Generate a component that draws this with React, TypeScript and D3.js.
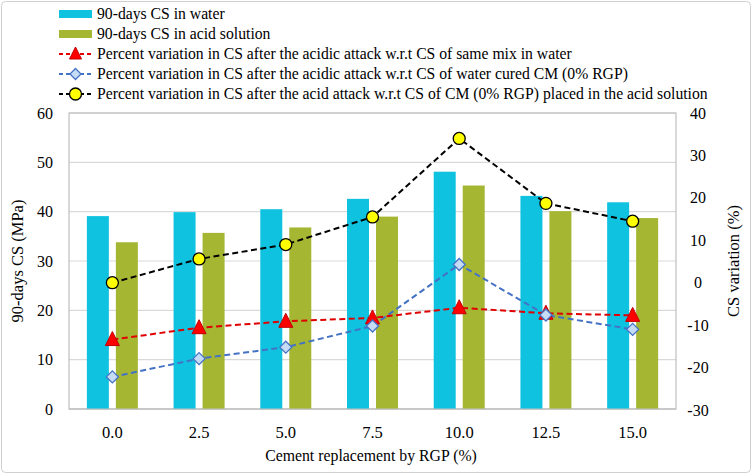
import React from "react";
import * as d3 from "d3";

const categories = ["0.0", "2.5", "5.0", "7.5", "10.0", "12.5", "15.0"];
const csWater = [39.1, 39.9, 40.5, 42.6, 48.1, 43.2, 41.9];
const csAcid = [33.8, 35.7, 36.8, 39.0, 45.3, 40.1, 38.7];
const varSameMix = [-13.4, -10.6, -9.1, -8.3, -5.9, -7.2, -7.7];
const varWaterCM = [-22.2, -17.9, -15.2, -10.2, 4.3, -7.6, -11.0];
const varAcidCM = [0.0, 5.6, 9.0, 15.5, 34.0, 18.7, 14.5];
const leftTicks = [0, 10, 20, 30, 40, 50, 60];
const rightTicks = [-30, -20, -10, 0, 10, 20, 30, 40];
const legendLabels = [
  "90-days CS in water",
  "90-days CS in acid solution",
  "Percent variation in CS after the acidic attack w.r.t CS of same mix in water",
  "Percent variation in CS after the acidic attack w.r.t CS of water cured CM (0% RGP)",
  "Percent variation in CS after the acid attack w.r.t CS of CM (0% RGP) placed in the acid solution",
];

const W = 752;
const H = 474;
const L = 69, R = 676, T = 113, B = 409;
const FONT = "Liberation Serif, Times New Roman, DejaVu Serif, serif";

const BLUE = "#0EC2E0";
const GREEN = "#A5B633";
const RED = "#E00000";
const LBLUE = "#4472C4";

function Triangle({ x, y, s = 7 }: { x: number; y: number; s?: number }) {
  const p = `M${x},${y - s - 1} L${x + s},${y + s - 1} L${x - s},${y + s - 1} Z`;
  return <path d={p} fill="#FF0000" stroke="#C00000" strokeWidth={1} />;
}
function Diamond({ x, y, s = 6 }: { x: number; y: number; s?: number }) {
  const p = `M${x},${y - s} L${x + s},${y} L${x},${y + s} L${x - s},${y} Z`;
  return <path d={p} fill="#C6DCF4" stroke={LBLUE} strokeWidth={1.3} />;
}
function Circle({ x, y }: { x: number; y: number }) {
  return <circle cx={x} cy={y} r={6} fill="#FFFF00" stroke="#000" strokeWidth={1.3} />;
}

export default function App() {
  const x0 = d3.scaleBand<string>().domain(categories).range([L, R]).padding(0);
  const yL = d3.scaleLinear().domain([0, 60]).range([B, T]);
  const yR = d3.scaleLinear().domain([-30, 40]).range([B + 1, T]);
  const barW = 22;
  const gap = 7;
  const cx = (i: number) => (x0(categories[i]) as number) + x0.bandwidth() / 2;

  const line = (vals: number[]) =>
    d3
      .line<number>()
      .x((_, i) => cx(i))
      .y((v) => yR(v))(vals) as string;

  const legendY = [14, 34, 54, 74, 94];

  return (
    <svg width={W} height={H} style={{ position: "absolute", left: 0, top: 0 }} fontFamily={FONT}>
      <rect x={0} y={0} width={W} height={H} fill="#fff" />
      <rect x={1.5} y={1.5} width={W - 3} height={H - 3} rx={4} fill="none" stroke="#D0D0D0" strokeWidth={1} />

      {/* gridlines */}
      {leftTicks.map((t) => (
        <line key={t} x1={L} x2={R} y1={yL(t)} y2={yL(t)} stroke="#D9D9D9" strokeWidth={1.2} />
      ))}
      <rect x={L} y={T} width={R - L} height={B - T} fill="none" stroke="#BFBFBF" strokeWidth={1.2} />

      {/* bars */}
      {categories.map((c, i) => (
        <g key={c}>
          <rect x={cx(i) - gap / 2 - barW} y={yL(csWater[i])} width={barW} height={B - yL(csWater[i])} fill={BLUE} />
          <rect x={cx(i) + gap / 2} y={yL(csAcid[i])} width={barW} height={B - yL(csAcid[i])} fill={GREEN} />
        </g>
      ))}
      <line x1={L} x2={R} y1={B} y2={B} stroke="#BFBFBF" strokeWidth={1.2} />

      {/* lines */}
      <path d={line(varAcidCM)} fill="none" stroke="#000" strokeWidth={2} strokeDasharray="6,3.5" />
      <path d={line(varWaterCM)} fill="none" stroke={LBLUE} strokeWidth={2} strokeDasharray="6,3.5" />
      <path d={line(varSameMix)} fill="none" stroke={RED} strokeWidth={2} strokeDasharray="6,3.5" />
      {varAcidCM.map((v, i) => (
        <Circle key={"c" + i} x={cx(i)} y={yR(v)} />
      ))}
      {varSameMix.map((v, i) => (
        <Triangle key={"t" + i} x={cx(i)} y={yR(v)} />
      ))}
      {varWaterCM.map((v, i) => (
        <Diamond key={"d" + i} x={cx(i)} y={yR(v)} />
      ))}

      {/* left ticks */}
      {leftTicks.map((t) => (
        <text key={t} x={53} y={yL(t) + 5.5} textAnchor="end" fontSize={16} fill="#000" fontFamily={FONT}>
          {t}
        </text>
      ))}
      {/* right ticks */}
      {rightTicks.map((t) => (
        <text key={t} x={698} y={yR(t) + 5.5} textAnchor="middle" fontSize={16} fill="#000" fontFamily={FONT}>
          {t}
        </text>
      ))}
      {/* x ticks */}
      {categories.map((c, i) => (
        <text key={c} x={cx(i)} y={438} textAnchor="middle" fontSize={16.5} fill="#000" fontFamily={FONT}>
          {c}
        </text>
      ))}

      {/* axis titles */}
      <text x={371} y={461} textAnchor="middle" fontSize={15.8} fill="#000" fontFamily={FONT}>
        Cement replacement by RGP (%)
      </text>
      <text transform={`translate(23,${(T + B) / 2}) rotate(-90)`} textAnchor="middle" fontSize={16.5} fill="#000" fontFamily={FONT}>
        90-days CS (MPa)
      </text>
      <text transform={`translate(739,${(T + B) / 2}) rotate(-90)`} textAnchor="middle" fontSize={16.5} fill="#000" fontFamily={FONT}>
        CS variation (%)
      </text>

      {/* legend */}
      <rect x={59} y={legendY[0] - 4} width={33} height={8} fill={BLUE} />
      <rect x={59} y={legendY[1] - 4} width={33} height={8} fill={GREEN} />
      <line x1={59} x2={92} y1={legendY[2]} y2={legendY[2]} stroke={RED} strokeWidth={2} strokeDasharray="4,3" />
      <Triangle x={75.5} y={legendY[2]} s={6} />
      <line x1={59} x2={92} y1={legendY[3]} y2={legendY[3]} stroke={LBLUE} strokeWidth={2} strokeDasharray="4,3" />
      <rect x={70} y={legendY[3] - 6} width={11} height={12} fill="#fff" />
      <Diamond x={75.5} y={legendY[3]} s={5.5} />
      <line x1={59} x2={92} y1={legendY[4]} y2={legendY[4]} stroke="#000" strokeWidth={2} strokeDasharray="4,3" />
      <Circle x={75.5} y={legendY[4]} />
      {legendLabels.map((lab, i) => (
        <text key={i} x={97} y={legendY[i] + 5} fontSize={15.7} fill="#000" fontFamily={FONT}>
          {lab}
        </text>
      ))}
    </svg>
  );
}
